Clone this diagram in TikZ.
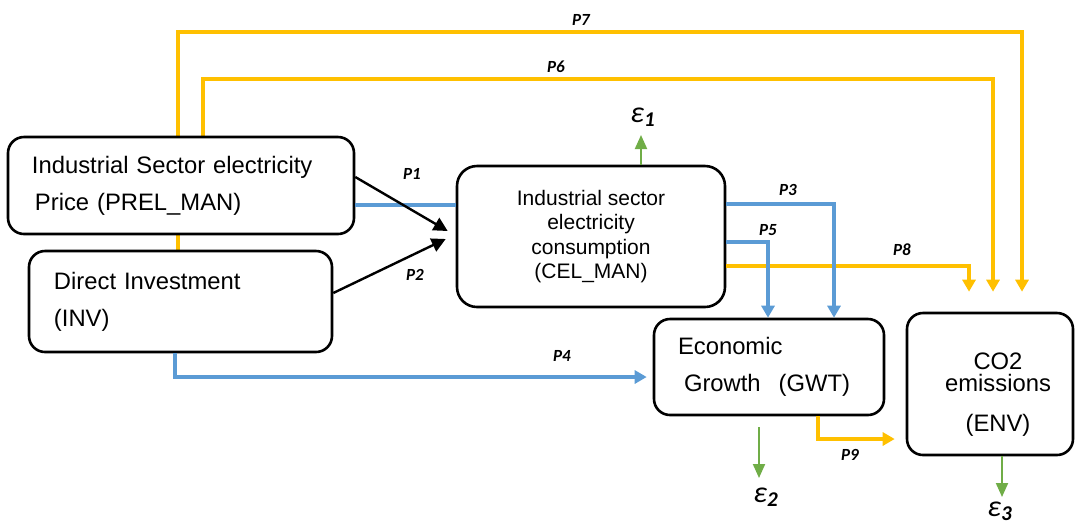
\documentclass[tikz,border=0pt]{standalone}
\usepackage{fontspec}
\setmainfont{Liberation Sans}
\newfontfamily\calib{Carlito}
\usepackage{xcolor}
\definecolor{pathyellow}{RGB}{255,192,0}
\definecolor{pathblue}{RGB}{91,155,213}
\definecolor{errgreen}{RGB}{112,173,71}
\usetikzlibrary{arrows.meta,backgrounds}

\begin{document}
\begin{tikzpicture}[x=0.5pt,y=-0.5pt,
  box/.style={draw,line width=1.3pt,rounded corners=8pt,fill=white,inner ysep=0pt},
  bigtext/.style={font=\fontsize{11.9}{18.5}\selectfont},
  yel/.style={pathyellow,line width=1.6pt},
  blu/.style={pathblue,line width=1.6pt},
  tip/.style={-{Triangle[length=6pt,width=6.5pt]}},
  blk/.style={black,line width=1.2pt,-{Triangle[length=7pt,width=7pt]}},
  err/.style={errgreen,line width=1pt,-{Triangle[length=7pt,width=6pt]}},
  plab/.style={font=\calib\bfseries\itshape\fontsize{8.5}{10}\selectfont,inner sep=0pt},
  eps/.style={font=\calib\itshape\fontsize{15}{16}\selectfont,inner sep=0pt}
]
  \useasboundingbox (0,0) rectangle (1075,526);

  % Boxes
  \node[box,bigtext,align=left,text width=149pt,inner xsep=12pt,minimum height=48.5pt]
    (pre) at (181,185.5) {Industrial Sector electricity\\\hspace{1.5pt}Price (PREL\_MAN)};
  \node[box,bigtext,align=left,text width=126.5pt,inner xsep=12.5pt,minimum height=50.5pt]
    (inv) at (180.5,301.5) {Direct Investment\\(INV)};
  \node[box,rounded corners=10pt,align=center,minimum width=134pt,minimum height=70.5pt,
    font=\fontsize{10.5}{12.3}\selectfont] (cel) at (591,236.5)
    {Industrial sector\\electricity\\consumption\\(CEL\_MAN)};
  \node[box,bigtext,align=left,text width=91pt,inner xsep=12pt,minimum height=48pt]
    (gwt) at (769,367) {Economic\\\hspace{3pt}Growth\hspace{9pt}(GWT)};
  \node[box,minimum width=83pt,minimum height=71pt] (env) at (990,384) {};
  \node[align=center,font=\fontsize{11.9}{11}\selectfont] (envtxt) at ([yshift=-5.5pt,xshift=4pt]env.center)
    {CO2\\emissions\\[9pt](ENV)};

  % Error terms
  \node[eps] (e1) at (643,117) {ε\textsubscript{\bfseries 1}};
  \node[eps] (e2) at (766,497) {ε\textsubscript{\bfseries 2}};
  \node[eps] (e3) at (1000,511) {ε\textsubscript{\bfseries 3}};
  \coordinate (e1in) at (641,135);
  \coordinate (e2in) at (759,478);
  \coordinate (e3in) at (1002,497);
  \draw[err] (cel.north -| 641,0) -- (e1in);
  \draw[err] ([yshift=-5.5pt]gwt.south -| 759,0) -- (e2in);
  \draw[err] (env.south -| 1002,0) -- (e3in);

  % Paths
  \coordinate (in7) at ([yshift=10pt]env.north -| 1022,0);
  \coordinate (in6) at ([yshift=10pt]env.north -| 993,0);
  \coordinate (in8) at ([yshift=10pt]env.north -| 969,0);
  \coordinate (p1tip) at ([xshift=-4pt]cel.west |- 0,231);
  \coordinate (p2tip) at ([xshift=-5pt]cel.west |- 0,239);
  \begin{scope}[on background layer]
    \draw[yel,tip] (inv.north -| 178,0) |- (1022,32) -- (in7);
    \draw[yel,tip] (pre.north -| 203,0) |- (993,79) -- (in6);
  \end{scope}
  \draw[yel,tip] (cel.east |- 0,266) -| (in8);
  \draw[yel,tip,shorten >=5.5pt] (gwt.south -| 818,0) |- (env.west |- 0,439);
  \draw[blu] (pre.east |- 0,205) -- (cel.west |- 0,205);
  \draw[blu,tip] (cel.east |- 0,204) -| (834,0 |- gwt.north);
  \draw[blu,tip] (cel.east |- 0,242) -| (768,0 |- gwt.north);
  \draw[blu,tip,shorten >=3pt] (inv.south -| 175,0) |- (gwt.west |- 0,377);
  \draw[blk] (pre.east |- 0,177) -- (p1tip);
  \draw[blk] (inv.east |- 0,293) -- (p2tip);

  % Path labels
  \node[plab] (l1) at (412,174) {P1};
  \node[plab] (l2) at (415,275) {P2};
  \node[plab] (l3) at (788,190) {P3};
  \node[plab] (l4) at (562,356) {P4};
  \node[plab] (l5) at (768,230) {P5};
  \node[plab] (l6) at (556,67) {P6};
  \node[plab] (l7) at (581,20) {P7};
  \node[plab] (l8) at (902,250) {P8};
  \node[plab] (l9) at (850,455) {P9};
\end{tikzpicture}
\end{document}
